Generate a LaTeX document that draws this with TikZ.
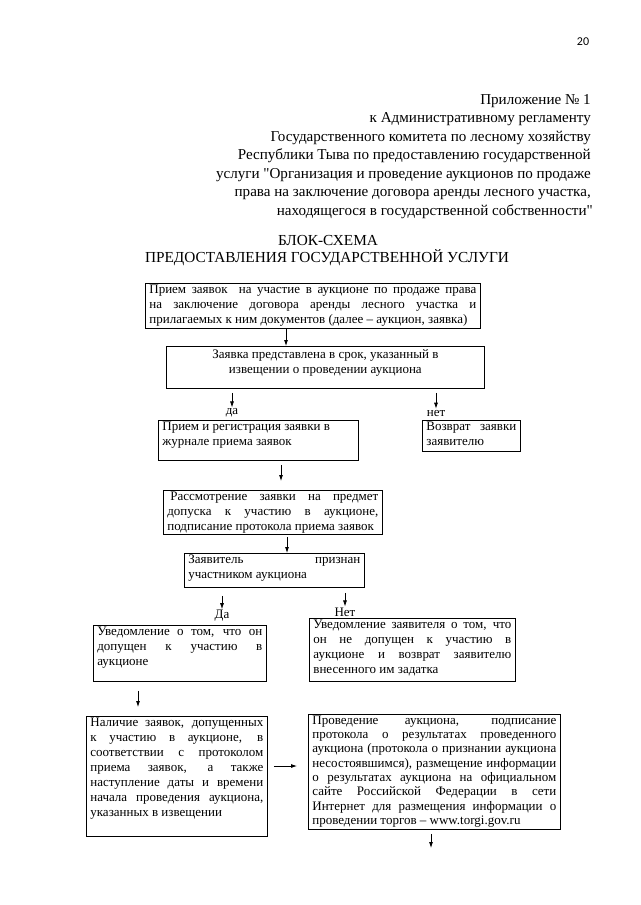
\documentclass[tikz,border=0pt]{standalone}
\usepackage{fontspec}
\setmainfont{Liberation Serif}
\newfontfamily\nomapfont{Liberation Serif}[Ligatures=TeXOff]
\newfontfamily\pagenumfont{Carlito}
\usetikzlibrary{arrows.meta}
\newcommand{\bxt}[3]{\parbox[c][#2pt][t]{#1pt}{#3}}
\newcommand{\sq}{{\nomapfont\char"0022\relax}}
\tikzset{
  box/.style={draw, line width=0.75pt, anchor=north west, inner xsep=4pt, inner ysep=1.5pt,
    font=\fontsize{13}{15}\selectfont},
  arr/.style={line width=0.75pt, -{Latex[length=6pt,width=4pt]}},
  lbl/.style={inner sep=1pt, font=\fontsize{13}{15}\selectfont},
  hdr/.style={inner sep=0pt, anchor=base east, font=\fontsize{15.1}{18}\selectfont},
  ttl/.style={inner sep=0pt, anchor=base, font=\fontsize{15.3}{18}\selectfont},
}
\begin{document}
\begin{tikzpicture}[x=1pt,y=-1pt]
\useasboundingbox[fill=white] (0,0) rectangle (640,905);
% page number
\node[inner sep=0pt, font=\pagenumfont\fontsize{12}{14}\selectfont] (pg) at (583,42) {20};
% header
\node[hdr] (h1) at (591,104) {Приложение № 1};
\node[hdr] (h2) at (591,122.5) {к Административному регламенту};
\node[hdr] (h3) at (591,141) {Государственного комитета по лесному хозяйству};
\node[hdr] (h4) at (591,159.5) {Республики Тыва по предоставлению государственной};
\node[hdr] (h5) at (591,178) {услуги \sq Организация и проведение аукционов по продаже};
\node[hdr] (h6) at (591,196.5) {права на заключение договора аренды лесного участка,};
\node[hdr] (h7) at (593,215) {находящегося в государственной собственности\sq};
% title
\node[ttl] (t1) at (328,245) {БЛОК-СХЕМА};
\node[ttl] (t2) at (327,262) {ПРЕДОСТАВЛЕНИЯ ГОСУДАРСТВЕННОЙ УСЛУГИ};
% boxes
\node[box] (b1) at (145,283) {\bxt{327}{42}{Прием заявок\ \ на участие в аукционе по продаже права\linebreak
 на заключение договора аренды лесного участка и\linebreak
 прилагаемых к ним документов (далее – аукцион, заявка)}};
\node[box, inner ysep=3.5pt] (b2) at (166,346) {\bxt{310}{35}{\centering Заявка представлена в срок, указанный в\\
 извещении о проведении аукциона\par}};
\node[box] (b3) at (158,420) {\bxt{192}{37}{\raggedright Прием и регистрация заявки в\\
 журнале приема заявок\par}};
\node[box] (b4) at (422,420) {\bxt{90}{28}{Возврат\ \ заявки\linebreak заявителю}};
\node[box] (b5) at (163,490) {\bxt{211}{41}{\hspace*{3pt}Рассмотрение заявки на предмет\linebreak
 допуска к участию в аукционе,\linebreak
 подписание протокола приема заявок}};
\node[box] (b6) at (184,553) {\bxt{172}{31}{Заявитель признан\linebreak участником аукциона}};
\node[box] (b7) at (93,625) {\bxt{165}{53}{Уведомление о том, что он\linebreak
 допущен к участию в\linebreak аукционе}};
\node[box] (b8) at (309,618) {\bxt{198}{60}{Уведомление заявителя о том, что\linebreak
 он не допущен к участию в\linebreak
 аукционе и возврат заявителю\linebreak
 внесенного им задатка}};
\node[box] (b9) at (86,716) {\bxt{173}{117}{Наличие заявок, допущенных\linebreak
 к участию в аукционе, в\linebreak
 соответствии с протоколом\linebreak
 приема заявок, а также\linebreak
 наступление даты и времени\linebreak
 начала проведения аукциона,\linebreak
 указанных в извещении}};
\node[box, font=\fontsize{13}{14.3}\selectfont] (b10) at (308,714) {\bxt{244}{112}{Проведение аукциона, подписание\linebreak
 протокола о результатах проведенного\linebreak
 аукциона (протокола о признании аукциона\linebreak
 несостоявшимся), размещение информации\linebreak
 о результатах аукциона на официальном\linebreak
 сайте Российской Федерации в сети\linebreak
 Интернет для размещения информации о\linebreak
 проведении торгов – www.torgi.gov.ru}};
% labels
\node[lbl] (da) at (232,413) {да};
\node[lbl] (net) at (436,413) {нет};
\node[lbl] (Da) at (222,616) {Да};
\node[lbl] (Net) at (345,612) {Нет};
% arrow x positions
\coordinate (xa1) at (286,0);
\coordinate (xa4) at (281,0);
\coordinate (xa5) at (287,0);
\coordinate (xa8) at (138,0);
\coordinate (xa10) at (431,0);
\coordinate (ya9) at (0,766);
\coordinate (endA10) at (431,848);
% arrows
\draw[arr] (xa1 |- b1.south) -- (xa1 |- b2.north);
\draw[arr, shorten <=4pt] (da.north |- b2.south) -- (da.north);
\draw[arr, shorten <=4pt] (net.north |- b2.south) -- (net.north);
\draw[arr, shorten <=4pt, shorten >=9pt] (xa4 |- b3.south) -- (xa4 |- b5.north);
\draw[arr, shorten <=2pt] (xa5 |- b5.south) -- (xa5 |- b6.north);
\draw[arr, shorten <=8pt] (Da.north |- b6.south) -- (Da.north);
\draw[arr, shorten <=5pt] (Net.north |- b6.south) -- (Net.north);
\draw[arr, shorten <=9pt, shorten >=9pt] (xa8 |- b7.south) -- (xa8 |- b9.north);
\draw[arr, shorten <=6pt, shorten >=11pt] (b9.east |- ya9) -- (b10.west |- ya9);
\draw[arr, shorten <=4pt] (xa10 |- b10.south) -- (endA10);
\end{tikzpicture}
\end{document}
